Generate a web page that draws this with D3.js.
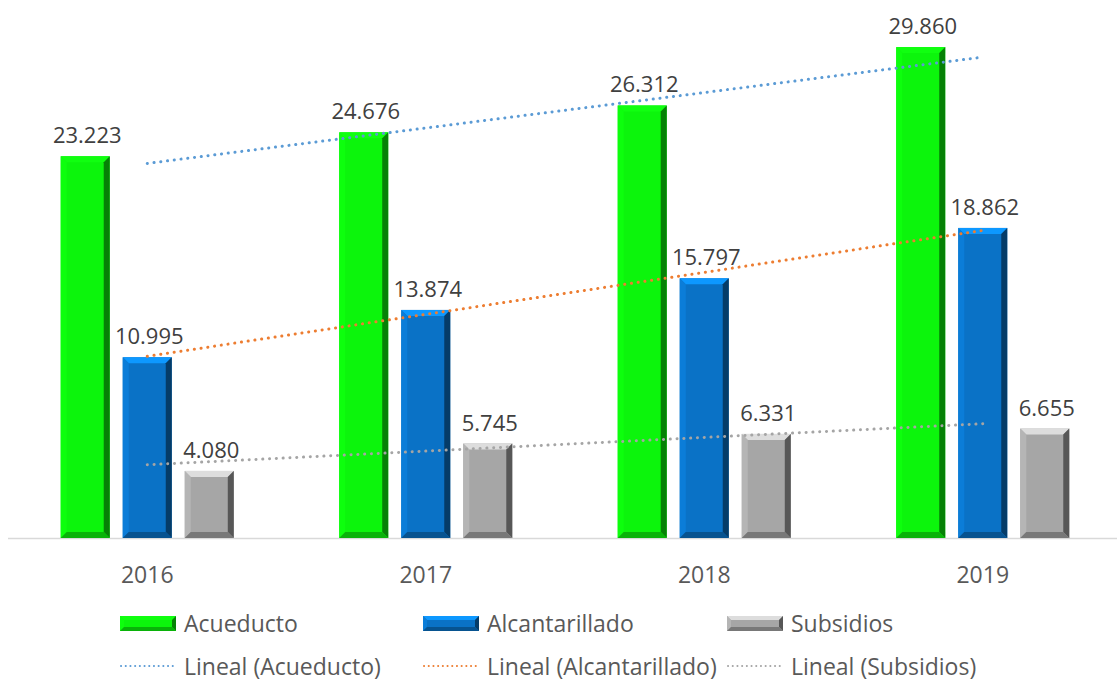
<!DOCTYPE html>
<html>
<head>
<meta charset="utf-8">
<script src="https://cdn.jsdelivr.net/npm/d3@7"></script>
<style>
    body { margin: 0; background: #fff; }
    svg text { font-family: "Open Sans", "Noto Sans", sans-serif; }
</style>
</head>
<body>
<svg id="chart" width="1117" height="681"></svg>
<script>
const years = ['2016', '2017', '2018', '2019'];
const seriesNames = ['Acueducto', 'Alcantarillado', 'Subsidios'];
const acueducto = [23.223, 24.676, 26.312, 29.860];
const alcantarillado = [10.995, 13.874, 15.797, 18.862];
const subsidios = [4.080, 5.745, 6.331, 6.655];

const seriesValues = [acueducto, alcantarillado, subsidios];
const barColors = ['#0cf50c', '#0a72c6', '#a6a6a6'];
const trendColors = ['#5b9bd5', '#ed7d31', '#a5a5a5'];

const svg = d3.select('#chart');
const baseY = 538;

const x = d3.scaleBand().domain(years).range([8, 1122]);
const x1 = d3.scaleBand().domain(seriesNames)
    .range([0, x.bandwidth()])
    .paddingInner(0.21)
    .paddingOuter(0.85);
const y = d3.scaleLinear().domain([0, 32]).range([baseY, baseY - 32 * 16.44]);

const fmt = v => v.toFixed(3);

// axis line
svg.append('line')
    .attr('x1', 8).attr('x2', 1117)
    .attr('y1', baseY + 0.5).attr('y2', baseY + 0.5)
    .attr('stroke', '#d9d9d9')
    .attr('stroke-width', 1.5);

// bevelled bar
function bevelBar(g, bx, by, w, h, color, bev) {
    const c = d3.color(color);
    g.append('rect').attr('x', bx).attr('y', by).attr('width', w).attr('height', h).attr('fill', color);
    const pts = {
        top: [[bx, by], [bx + w, by], [bx + w - bev, by + bev], [bx + bev, by + bev]],
        left: [[bx, by], [bx + bev, by + bev], [bx + bev, by + h - bev], [bx, by + h]],
        right: [[bx + w, by], [bx + w, by + h], [bx + w - bev, by + h - bev], [bx + w - bev, by + bev]],
        bottom: [[bx, by + h], [bx + bev, by + h - bev], [bx + w - bev, by + h - bev], [bx + w, by + h]]
    };
    const fills = {
        top: c.brighter(0.8),
        left: c.brighter(0.25),
        right: c.darker(1.8),
        bottom: c.darker(0.9)
    };
    Object.keys(pts).forEach(k => {
        g.append('polygon')
            .attr('points', pts[k].map(p => p.join(',')).join(' '))
            .attr('fill', fills[k]);
    });
}

const bars = svg.append('g').attr('class', 'bars');
seriesNames.forEach((name, si) => {
    years.forEach((yr, i) => {
        const v = seriesValues[si][i];
        const bx = x(yr) + x1(name);
        const by = y(v);
        bevelBar(bars, bx, by, x1.bandwidth(), baseY - by, barColors[si], 6);
    });
});

// linear trendlines (least squares over category index)
const trend = svg.append('g').attr('class', 'trend');
seriesValues.forEach((vals, si) => {
    const xs = vals.map((_, i) => i + 1);
    const mx = d3.mean(xs), my = d3.mean(vals);
    const slope = d3.sum(xs, (xi, i) => (xi - mx) * (vals[i] - my)) / d3.sum(xs, xi => (xi - mx) ** 2);
    const icpt = my - slope * mx;
    const cx = yr => x(yr) + x.bandwidth() / 2;
    trend.append('line')
        .attr('x1', cx(years[0])).attr('y1', y(icpt + slope * 1))
        .attr('x2', cx(years[3])).attr('y2', y(icpt + slope * 4))
        .attr('stroke', trendColors[si])
        .attr('stroke-width', 3)
        .attr('stroke-linecap', 'round')
        .attr('stroke-dasharray', '0.1 6.7');
});

// data labels
const labels = svg.append('g').attr('class', 'labels');
seriesNames.forEach((name, si) => {
    years.forEach((yr, i) => {
        const v = seriesValues[si][i];
        labels.append('text')
            .attr('x', x(yr) + x1(name) + x1.bandwidth() / 2 + 2)
            .attr('y', y(v) - 13)
            .attr('text-anchor', 'middle')
            .attr('font-size', 22)
            .attr('fill', '#404040')
            .text(fmt(v));
    });
});

// category labels
svg.append('g').selectAll('text')
    .data(years)
    .join('text')
    .attr('x', d => x(d) + x.bandwidth() / 2)
    .attr('y', 583)
    .attr('text-anchor', 'middle')
    .attr('font-size', 23)
    .attr('fill', '#595959')
    .text(d => d);

// legend
const legendX = [120, 423, 727];
const legend = svg.append('g').attr('class', 'legend');
seriesNames.forEach((name, si) => {
    bevelBar(legend, legendX[si], 616, 56, 15, barColors[si], 4);
    legend.append('text')
        .attr('x', legendX[si] + 64).attr('y', 632)
        .attr('font-size', 23)
        .attr('fill', '#595959')
        .text(name);

    legend.append('line')
        .attr('x1', legendX[si] + 1).attr('x2', legendX[si] + 56)
        .attr('y1', 666).attr('y2', 666)
        .attr('stroke', trendColors[si])
        .attr('stroke-width', 2)
        .attr('stroke-linecap', 'round')
        .attr('stroke-dasharray', '0.1 4.6');
    legend.append('text')
        .attr('x', legendX[si] + 64).attr('y', 675)
        .attr('font-size', 23)
        .attr('fill', '#595959')
        .text(`Lineal (${name})`);
});
</script>
</body>
</html>
